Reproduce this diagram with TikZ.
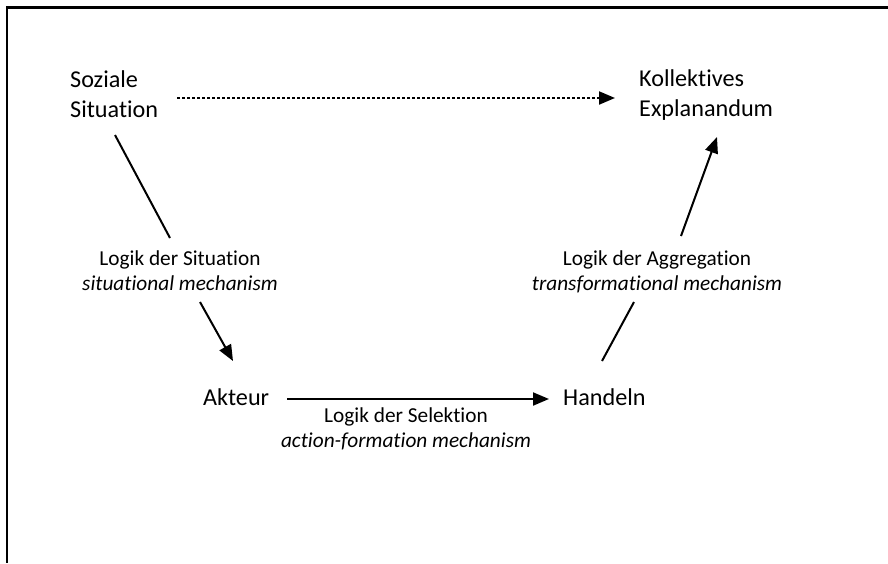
\documentclass[tikz,border=0pt]{standalone}
\usepackage{fontspec}
\setmainfont{Carlito}[Ligatures=CommonOff]
\usetikzlibrary{arrows.meta}
\tikzset{
  maintext/.style={font=\fontsize{24.2}{30}\selectfont, inner sep=0pt, align=left},
  lbltext/.style={font=\fontsize{21.3}{24.5}\selectfont, inner sep=0pt, align=center},
  conn/.style={line width=2pt, draw=black},
  arr/.style={conn, -{Triangle[length=16pt,width=13pt]}},
  dotarr/.style={arr, dash pattern=on 2.5pt off 2.5pt},
  frameline/.style={line width=2.2pt, draw=black}
}
\begin{document}
\begin{tikzpicture}[x=1pt,y=-1pt]
\useasboundingbox (0,0) rectangle (888,563);
% frame (top and left only)
\coordinate (fr1) at (888,7.5);
\coordinate (fr2) at (7,7.5);
\coordinate (fr3) at (7,563);
\draw[frameline] (fr1) -- (fr2) -- (fr3);

% main nodes (base anchor = baseline of last line)
\node[maintext, anchor=base west] (soz) at (70,117) {Soziale\\Situation};
\node[maintext, anchor=base west] (koll) at (639,116) {Kollektives\\Explanandum};
\node[maintext, anchor=base west] (akt) at (203,405) {Akteur};
\node[maintext, anchor=base west] (hand) at (563,405) {Handeln};

% labels
\node[lbltext, anchor=base] (lsit) at (180,290) {Logik der Situation\\\textit{situational mechanism}};
\node[lbltext, anchor=base] (lagg) at (657,290) {Logik der Aggregation\\\textit{transformational mechanism}};
\node[lbltext, anchor=base] (lsel) at (406,447) {Logik der Selektion\\\textit{action-formation mechanism}};

% connector end points
\coordinate (d1) at (177,98);
\coordinate (d2) at (615,98);
\coordinate (s1) at (115,135);
\coordinate (s1m) at (170,238);
\coordinate (s2m) at (200,302);
\coordinate (s2) at (233,361);
\coordinate (g1) at (602,361);
\coordinate (g1m) at (634,302);
\coordinate (g2m) at (681,236);
\coordinate (g2) at (717,137);
\coordinate (h1) at (287,399);
\coordinate (h2) at (549,399);

% connectors
\draw[dotarr] (d1) -- (d2);
\draw[conn] (s1) -- (s1m);
\draw[arr] (s2m) -- (s2);
\draw[conn] (g1) -- (g1m);
\draw[arr] (g2m) -- (g2);
\draw[arr] (h1) -- (h2);
\end{tikzpicture}
\end{document}
